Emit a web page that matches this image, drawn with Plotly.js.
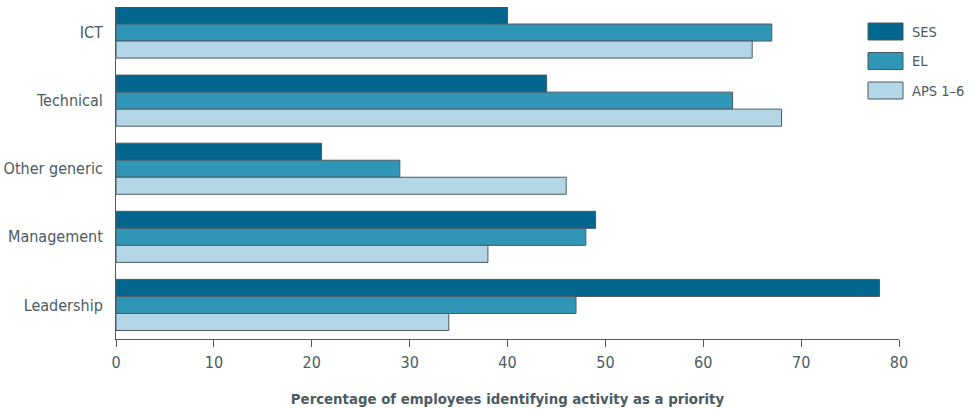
<!DOCTYPE html>
<html>
<head>
<meta charset="utf-8">
<script src="https://cdn.plot.ly/plotly-3.0.1.min.js"></script>
<style>
  html, body { margin: 0; padding: 0; background: #ffffff; }
  #chart { width: 977px; height: 409px; }
</style>
</head>
<body>
<div id="chart"></div>
<script>
// Training priorities by classification group
const categories = ['ICT', 'Technical', 'Other generic', 'Management', 'Leadership'];
const sesValues = [40, 44, 21, 49, 78];
const elValues = [67, 63, 29, 48, 47];
const apsValues = [65, 68, 46, 38, 34];
const seriesNames = ['SES', 'EL', 'APS 1\u20136'];
const seriesColors = ['#03668e', '#3096b8', '#b3d6e6'];
const xTickValues = [0, 10, 20, 30, 40, 50, 60, 70, 80];
const xTitle = 'Percentage of employees identifying activity as a priority';

const W = 977, H = 409;
const margin = { l: 116, r: 78, t: 7, b: 70 };
const plotW = W - margin.l - margin.r;
const plotH = H - margin.t - margin.b;
const textColor = '#4b5a63';
const lineColor = '#4b5a63';
const fontFamily = '"DejaVu Sans Condensed", "Liberation Sans Narrow", Arial, sans-serif';

const seriesValues = [sesValues, elValues, apsValues];

const traces = seriesValues.map((vals, i) => ({
  type: 'bar',
  orientation: 'h',
  name: seriesNames[i],
  y: categories,
  x: vals,
  marker: { color: seriesColors[i], line: { color: lineColor, width: 1 } },
  hoverinfo: 'x+name'
}));

// pixel -> paper helpers for the hand-built legend
const px = x => (x - margin.l) / plotW;
const py = y => (H - margin.b - y) / plotH;

const legendShapes = [];
const legendLabels = [];
const legendTop = 23, legendStep = 29.5, swH = 17;
seriesNames.forEach((name, i) => {
  const y0 = legendTop + i * legendStep;
  legendShapes.push({
    type: 'rect', xref: 'paper', yref: 'paper',
    x0: px(868), x1: px(903), y0: py(y0), y1: py(y0 + swH),
    fillcolor: seriesColors[i], line: { color: lineColor, width: 1 }
  });
  legendLabels.push({
    xref: 'paper', yref: 'paper', x: px(910), y: py(y0 + swH / 2),
    xanchor: 'left', yanchor: 'middle', showarrow: false,
    text: name, font: { family: fontFamily, size: 14.5, color: textColor }
  });
});

const layout = {
  width: W, height: H,
  margin: margin,
  paper_bgcolor: '#ffffff', plot_bgcolor: '#ffffff',
  barmode: 'group', bargap: 0.25, bargroupgap: 0,
  showlegend: false,
  font: { family: fontFamily, size: 16, color: textColor },
  xaxis: {
    range: [0, 80], tickvals: xTickValues, ticktext: xTickValues.map(String),
    showgrid: false, zeroline: false,
    showline: true, linecolor: lineColor, linewidth: 1,
    ticks: 'outside', ticklen: 7, tickcolor: lineColor, tickwidth: 1,
    ticklabelstandoff: 2,
    tickfont: { family: fontFamily, size: 16, color: textColor },
    title: { text: xTitle, standoff: 22, font: { family: fontFamily, size: 14.8, color: textColor, weight: 'bold' } }
  },
  yaxis: {
    type: 'category', categoryorder: 'array', categoryarray: categories,
    range: [4.5, -0.375],
    showgrid: false, zeroline: false,
    showline: true, linecolor: lineColor, linewidth: 1,
    ticks: '', ticklabelstandoff: 9,
    tickfont: { family: fontFamily, size: 16, color: textColor }
  },
  shapes: legendShapes,
  annotations: legendLabels
};

Plotly.newPlot('chart', traces, layout, { displayModeBar: false, staticPlot: true });
</script>
</body>
</html>
